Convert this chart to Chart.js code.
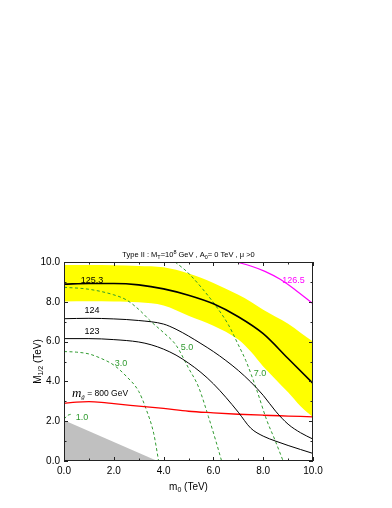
<!DOCTYPE html>
<html>
<head>
<meta charset="utf-8">
<script src="https://cdn.jsdelivr.net/npm/chart.js@4.4.1/dist/chart.umd.min.js"></script>
<style>
  body { margin: 0; background: #fff; }
  canvas { display: block; }
</style>
</head>
<body>
<canvas id="chart" width="392" height="508"></canvas>
<script>
// ---- data (m0 in TeV, M1/2 in TeV) ----
const xTicks = [0, 2, 4, 6, 8, 10];
const yTicks = [0, 2, 4, 6, 8, 10];

const bandX      = [0, 1, 2, 3, 4, 5, 6, 7, 7.5, 8, 8.5, 9, 9.5, 10];
const bandTop    = [9.85, 9.85, 9.84, 9.8, 9.73, 9.42, 8.95, 8.35, 8.0, 7.6, 7.25, 6.9, 6.45, 6.0];
const bandBottom = [8.02, 8.03, 8.02, 7.98, 7.82, 7.3, 6.8, 6.1, 5.5, 4.75, 4.1, 3.45, 2.75, 2.2];

const h1253X = [0, 1, 2, 3, 4, 5, 6, 7, 8, 9, 10];
const h1253Y = [8.89, 8.92, 8.92, 8.85, 8.65, 8.33, 7.9, 7.25, 6.4, 5.15, 3.9];

const h124X = [0, 1, 2, 3, 4, 4.5, 5, 5.5, 6, 6.5, 7, 7.5, 8, 8.5, 9, 9.5, 10];
const h124Y = [7.15, 7.17, 7.14, 7.06, 6.88, 6.62, 6.28, 5.9, 5.5, 5.05, 4.55, 3.97, 3.3, 2.5, 1.85, 1.42, 1.1];

const h123X = [0, 1, 2, 3, 3.5, 4, 4.5, 5, 5.5, 6, 6.5, 7, 7.5, 8, 8.5, 9, 10];
const h123Y = [6.15, 6.15, 6.1, 5.98, 5.84, 5.62, 5.32, 4.92, 4.45, 3.88, 3.2, 2.45, 1.65, 1.25, 1.0, 0.78, 0.38];

const h1265X = [6.93, 7.5, 8.07, 8.7, 9.28, 10];
const h1265Y = [10, 9.8, 9.53, 9.12, 8.61, 7.9];

const gluinoX = [0, 0.5, 1, 1.5, 2, 3, 4, 5, 6, 7, 8, 9, 10];
const gluinoY = [2.9, 2.96, 2.98, 2.95, 2.88, 2.76, 2.64, 2.5, 2.42, 2.35, 2.3, 2.26, 2.22];

const c10X = [0, 0.12, 0.3];
const c10Y = [2.1, 2.27, 2.36];
const c30X = [0, 0.5, 1, 1.5, 2, 2.5, 3, 3.3, 3.6, 3.8];
const c30Y = [5.5, 5.47, 5.38, 5.15, 4.82, 4.26, 3.5, 2.6, 1.4, 0];
const c50X = [0, 1, 2, 2.5, 3, 3.5, 4, 4.5, 5, 5.4, 5.8, 6.1, 6.33];
const c50Y = [8.73, 8.63, 8.35, 8.1, 7.62, 7.0, 6.45, 5.82, 4.67, 3.73, 2.23, 1.0, 0];
const c70X = [4.46, 4.86, 5.06, 5.53, 6.06, 6.6, 7.0, 7.3, 7.74, 8.14, 8.47, 8.8];
const c70Y = [10, 9.6, 9.36, 8.7, 7.86, 6.85, 5.84, 5.05, 3.57, 2.06, 1.06, 0];

const excludedX = [0, 3.75];
const excludedY = [2.05, 0];

// ---- styles ----
const YELLOW = '#ffff00';
const GREEN = '#2f9a2f';
const FONT = '"Liberation Sans", Arial, sans-serif';

function pts(xs, ys) {
  return xs.map((x, i) => ({ x: x, y: ys[i] }));
}

function line(xs, ys, color, width, extra) {
  return Object.assign({
    data: pts(xs, ys),
    showLine: true,
    borderColor: color,
    borderWidth: width,
    pointRadius: 0,
    fill: false,
    cubicInterpolationMode: 'monotone'
  }, extra || {});
}

// labels placed in data coordinates
const curveLabels = [
  { text: '125.3', x: 1.12, y: 9.07, color: '#000' },
  { text: '124',   x: 1.12, y: 7.54, color: '#000' },
  { text: '123',   x: 1.12, y: 6.53, color: '#000' },
  { text: '126.5', x: 9.22, y: 9.05, color: '#ff00ff' },
  { text: '1.0',   x: 0.72, y: 2.21, color: GREEN },
  { text: '3.0',   x: 2.29, y: 4.92, color: GREEN },
  { text: '5.0',   x: 4.94, y: 5.68, color: GREEN },
  { text: '7.0',   x: 7.87, y: 4.42, color: GREEN }
];

// draws a run of text pieces (with sub/superscripts)
function drawRuns(ctx, runs, x, y, align) {
  let total = 0;
  runs.forEach(r => {
    ctx.font = r.font;
    r.w = ctx.measureText(r.t).width;
    total += r.w;
  });
  let cx = align === 'center' ? x - total / 2 : x;
  ctx.textAlign = 'left';
  ctx.textBaseline = 'alphabetic';
  runs.forEach(r => {
    ctx.font = r.font;
    ctx.fillText(r.t, cx, y + (r.dy || 0));
    cx += r.w;
  });
}

const decorations = {
  id: 'decorations',
  afterDraw(chart) {
    const ctx = chart.ctx;
    const xs = chart.scales.x, ys = chart.scales.y;
    const a = chart.chartArea;
    ctx.save();

    // frame
    ctx.strokeStyle = '#222';
    ctx.lineWidth = 1;
    ctx.strokeRect(Math.round(a.left) + 0.5, Math.round(a.top) + 0.5,
                   Math.round(a.right - a.left) - 1, Math.round(a.bottom - a.top) - 1);

    // inward ticks on all four sides
    ctx.beginPath();
    for (let v = 0; v <= 10; v++) {
      const len = v % 2 === 0 ? 4 : 2.5;
      const px = Math.round(xs.getPixelForValue(v)) + 0.5;
      const py = Math.round(ys.getPixelForValue(v)) + 0.5;
      ctx.moveTo(px, a.bottom); ctx.lineTo(px, a.bottom - len);
      ctx.moveTo(px, a.top);    ctx.lineTo(px, a.top + len);
      ctx.moveTo(a.left, py);   ctx.lineTo(a.left + len, py);
      ctx.moveTo(a.right, py);  ctx.lineTo(a.right - len, py);
    }
    ctx.stroke();

    // curve labels
    ctx.textAlign = 'center';
    ctx.textBaseline = 'middle';
    ctx.font = '9px ' + FONT;
    curveLabels.forEach(l => {
      ctx.fillStyle = l.color;
      ctx.fillText(l.text, xs.getPixelForValue(l.x), ys.getPixelForValue(l.y));
    });

    // gluino mass label
    ctx.fillStyle = '#000';
    const gx = xs.getPixelForValue(0.32), gy = ys.getPixelForValue(3.22);
    drawRuns(ctx, [
      { t: 'm', font: 'italic 13px "Liberation Serif", serif' },
      { t: 'g\u0303', font: 'italic 7px "Liberation Serif", serif', dy: 2 },
      { t: ' = 800 GeV', font: '8.5px ' + FONT, dy: -1 }
    ], gx, gy, 'left');

    // title
    const mid = (a.left + a.right) / 2;
    const f = '7.5px ' + FONT, fs = '5.5px ' + FONT;
    drawRuns(ctx, [
      { t: 'Type II : M', font: f },
      { t: 'T', font: fs, dy: 2 },
      { t: '=10', font: f },
      { t: '8', font: fs, dy: -3 },
      { t: ' GeV , A', font: f },
      { t: '0', font: fs, dy: 2 },
      { t: '= 0 TeV , \u03bc >0', font: f }
    ], mid, a.top - 5, 'center');

    // x axis title
    drawRuns(ctx, [
      { t: 'm', font: '10px ' + FONT },
      { t: '0', font: '7px ' + FONT, dy: 2 },
      { t: ' (TeV)', font: '10px ' + FONT }
    ], mid, 490, 'center');

    // y axis title
    ctx.translate(41, (a.top + a.bottom) / 2);
    ctx.rotate(-Math.PI / 2);
    drawRuns(ctx, [
      { t: 'M', font: '10px ' + FONT },
      { t: '1/2', font: '7px ' + FONT, dy: 2 },
      { t: ' (TeV)', font: '10px ' + FONT }
    ], 0, 0, 'center');

    ctx.restore();
  }
};

new Chart(document.getElementById('chart'), {
  type: 'scatter',
  data: {
    datasets: [
      line(h1253X, h1253Y, '#000', 1.6, { order: 1 }),
      line(h124X, h124Y, '#000', 1, { order: 1 }),
      line(h123X, h123Y, '#000', 1, { order: 1 }),
      line(h1265X, h1265Y, '#ff00ff', 1.2, { order: 1 }),
      line(gluinoX, gluinoY, '#ff0000', 1.3, { order: 1 }),
      line(c10X, c10Y, GREEN, 1, { order: 2, borderDash: [3, 2.5] }),
      line(c30X, c30Y, GREEN, 1, { order: 2, borderDash: [3, 2.5] }),
      line(c50X, c50Y, GREEN, 1, { order: 2, borderDash: [3, 2.5] }),
      line(c70X, c70Y, GREEN, 1, { order: 2, borderDash: [3, 2.5] }),
      line(excludedX, excludedY, 'rgba(0,0,0,0)', 0,
           { order: 8, fill: 'origin', backgroundColor: '#c0c0c0', cubicInterpolationMode: 'default', tension: 0 }),
      line(bandX, bandTop, 'rgba(0,0,0,0)', 0,
           { order: 9, fill: '+1', backgroundColor: YELLOW }),
      line(bandX, bandBottom, 'rgba(0,0,0,0)', 0, { order: 10 })
    ]
  },
  options: {
    responsive: false,
    animation: false,
    devicePixelRatio: 1,
    layout: { padding: { left: 0, top: 262, right: 79, bottom: 0 } },
    plugins: { legend: { display: false }, tooltip: { enabled: false } },
    scales: {
      x: {
        type: 'linear', min: 0, max: 10,
        afterFit(s) { s.height = 47; },
        afterBuildTicks(s) { s.ticks = xTicks.map(v => ({ value: v })); },
        grid: { display: false, drawTicks: false },
        border: { display: false },
        ticks: { padding: 4, color: '#000', font: { family: FONT, size: 10 },
                 maxRotation: 0, callback: v => v.toFixed(1) }
      },
      y: {
        type: 'linear', min: 0, max: 10,
        afterFit(s) { s.width = 64; },
        afterBuildTicks(s) { s.ticks = yTicks.map(v => ({ value: v })); },
        grid: { display: false, drawTicks: false },
        border: { display: false },
        ticks: { padding: 4, color: '#000', font: { family: FONT, size: 10 },
                 callback: v => v.toFixed(1) }
      }
    }
  },
  plugins: [decorations]
});
</script>
</body>
</html>
